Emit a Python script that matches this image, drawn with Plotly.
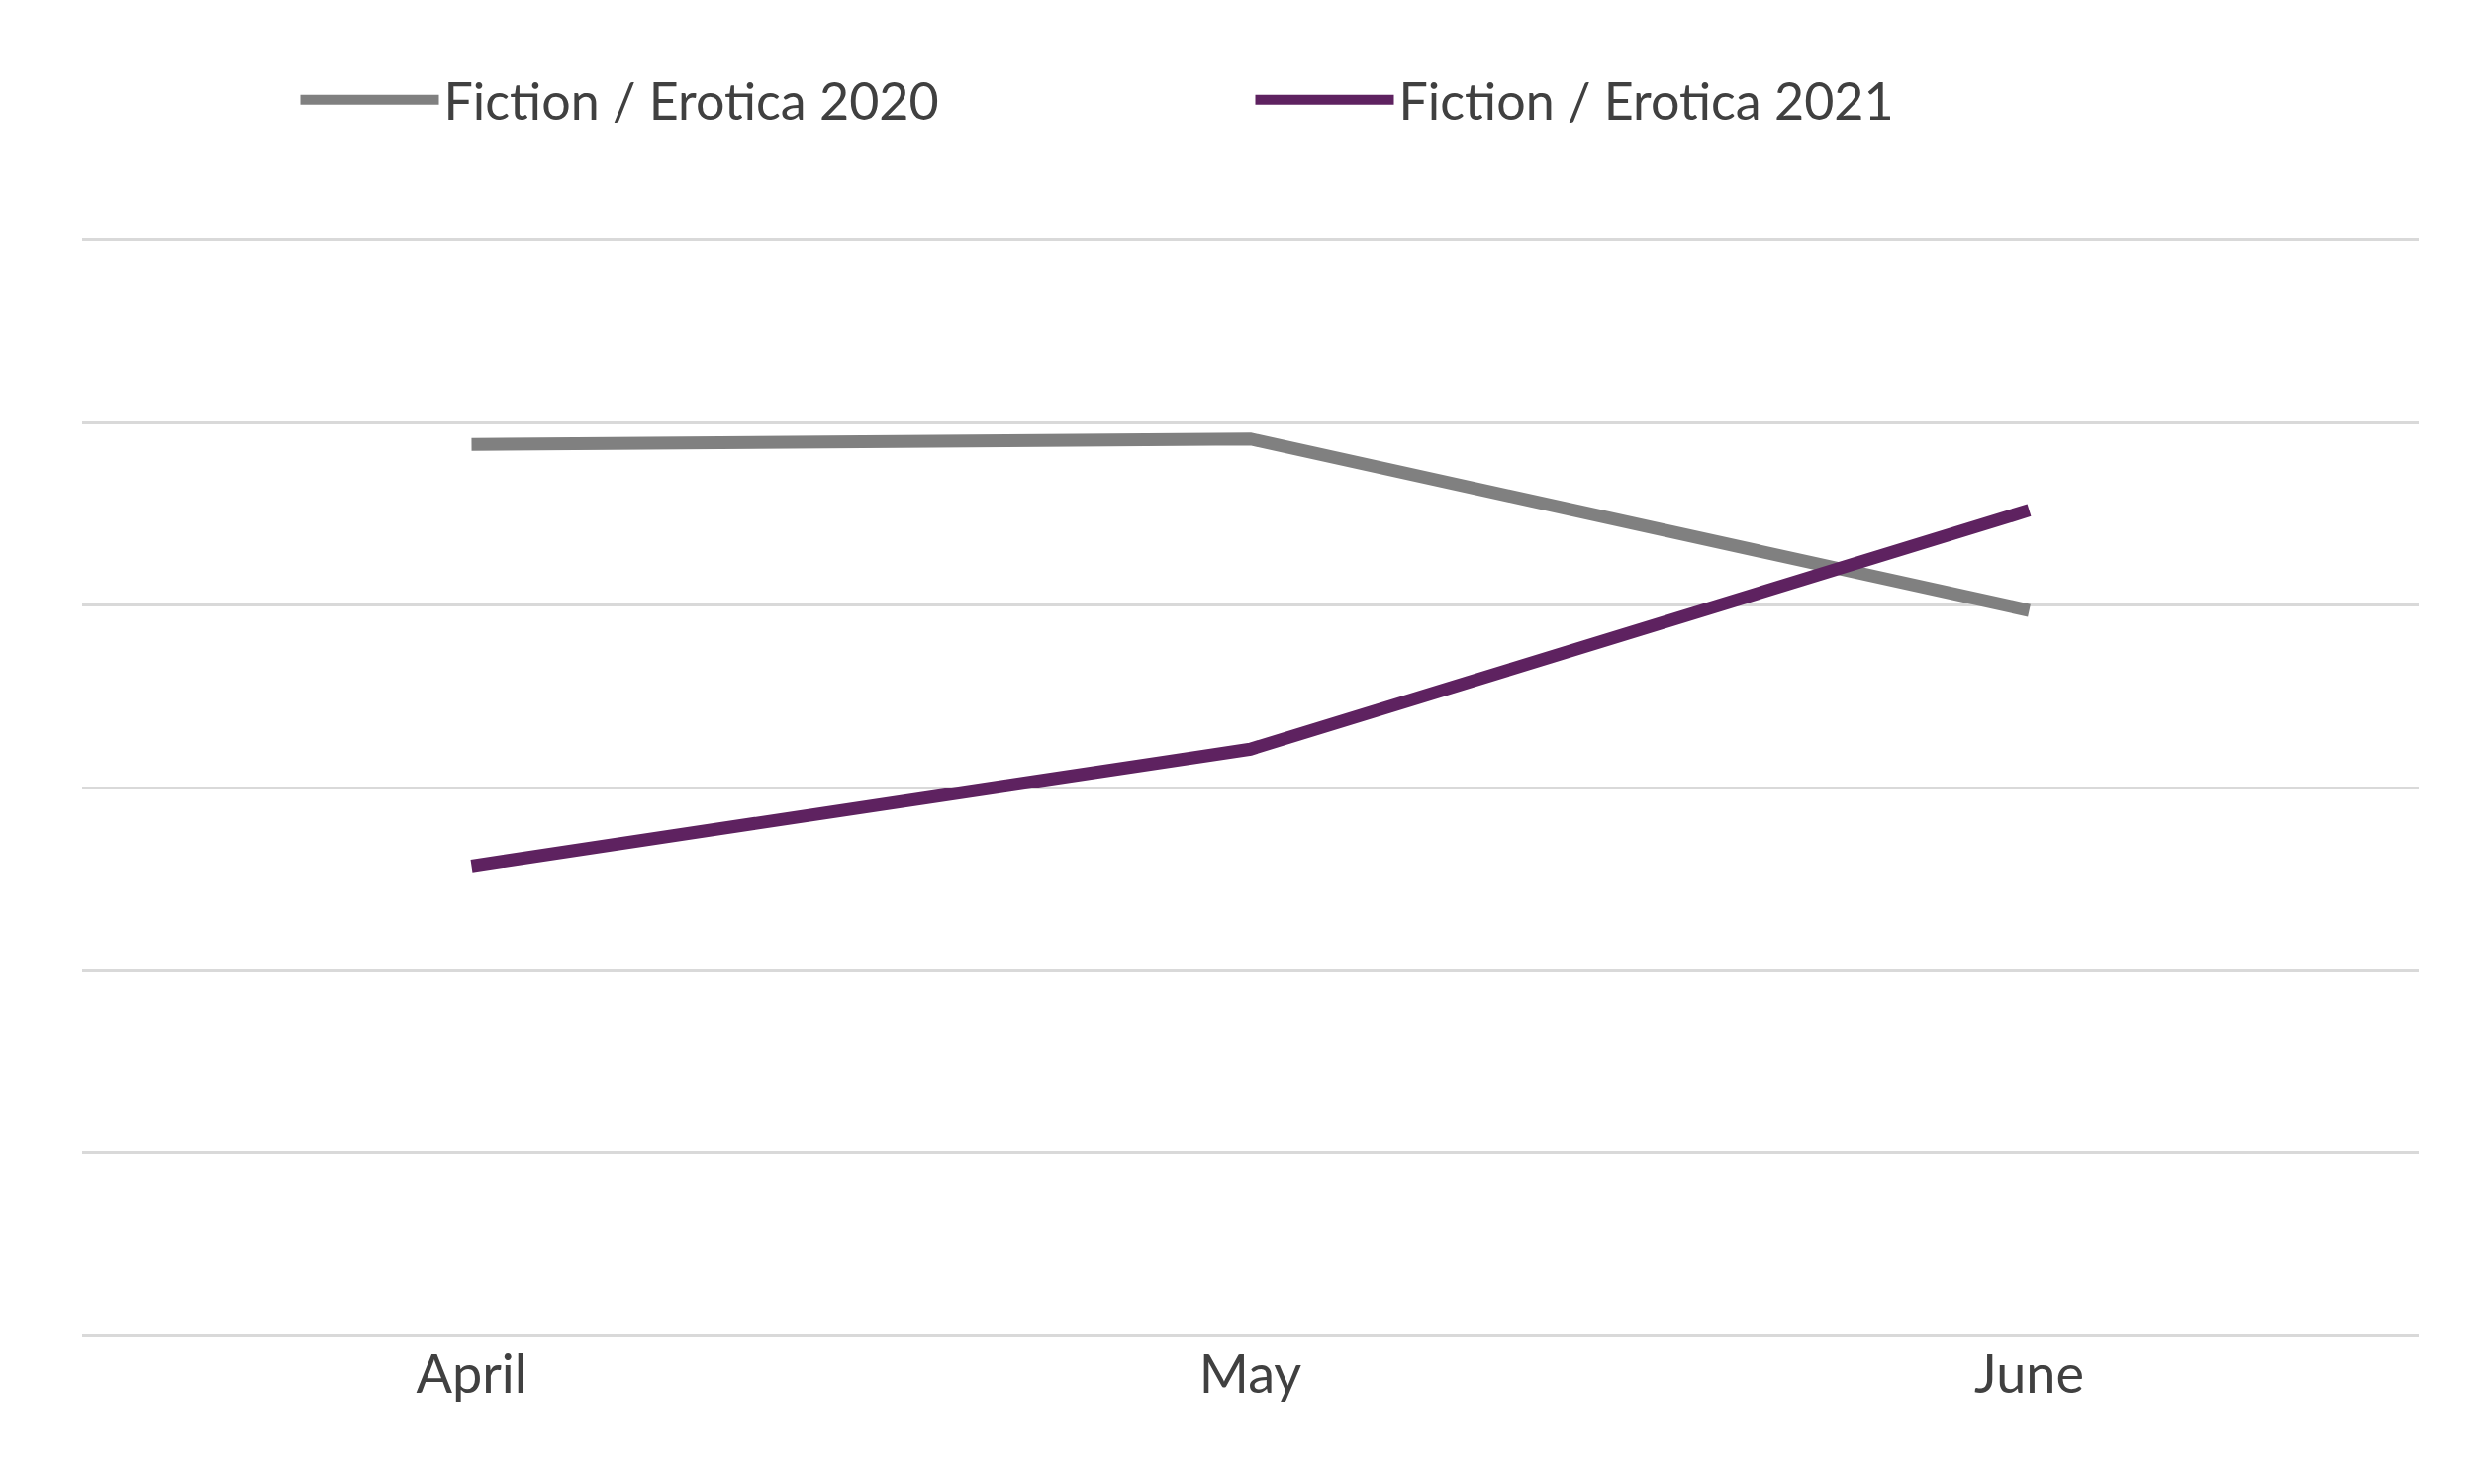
import plotly.graph_objects as go

months = ["April", "May", "June"]
s2020 = [4.88, 4.91, 3.97]
s2021 = [2.57, 3.21, 4.52]
names = ["Fiction / Erotica 2020", "Fiction / Erotica 2021"]

fig = go.Figure()
fig.add_trace(go.Scatter(x=months, y=s2020, mode="lines", name=names[0],
                         line=dict(color="#808080", width=13)))
fig.add_trace(go.Scatter(x=months, y=s2021, mode="lines", name=names[1],
                         line=dict(color="#5E2260", width=13)))
fig.update_layout(
    width=2500, height=1500, paper_bgcolor="white", plot_bgcolor="white",
    margin=dict(l=75, r=64, t=231, b=155),
    font=dict(family="Lato, Open Sans, sans-serif", color="#404040", size=52),
    legend=dict(orientation="h", x=0.5, xanchor="center", y=0.965, yanchor="top",
                yref="container", font=dict(size=52), itemwidth=140,
                entrywidth=810, entrywidthmode="pixels"),
    xaxis=dict(range=[-0.5, 2.5], showgrid=False, showline=False, ticks="",
               tickfont=dict(size=54)),
    yaxis=dict(range=[-0.02, 6.02], tickvals=[0, 1, 2, 3, 4, 5, 6], showticklabels=False,
               gridcolor="#D9D9D9", gridwidth=3, zeroline=False, showline=False),
)
fig.write_html("out.html")
